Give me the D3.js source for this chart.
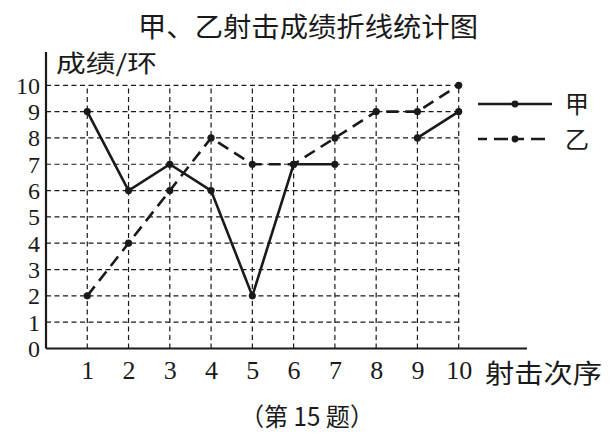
<!DOCTYPE html>
<html>
<head>
<meta charset="utf-8">
<script src="https://cdn.jsdelivr.net/npm/d3@7"></script>
<style>
html,body{margin:0;padding:0;background:#fff;}
svg{display:block;}
.num{font-family:"Liberation Serif","DejaVu Serif",serif !important;}
.cjk{font-family:"Noto Sans CJK SC","Noto Sans CJK JP",sans-serif;}
</style>
</head>
<body>
<svg id="chart" width="615" height="437"></svg>
<script>
const shots = [1,2,3,4,5,6,7,8,9,10];
const jiaScores = [9,6,7,6,2,7,7,null,8,9];
const yiScores = [2,4,6,8,7,7,8,9,9,10];
const yTicks = [0,1,2,3,4,5,6,7,8,9,10];
const xTicks = [1,2,3,4,5,6,7,8,9,10];
const seriesNames = ["甲","乙"];

const svg = d3.select("#chart");
const ink = "#1a1a1a";
const x = d3.scaleLinear().domain([0,10]).range([46, 458.7]);
const y = d3.scaleLinear().domain([0,10]).range([348.5, 85.3]);

// grid
const grid = svg.append("g").attr("stroke", ink).attr("stroke-width", 1.2).attr("stroke-dasharray", "5,3.5");
grid.selectAll("line.h").data(yTicks.filter(d=>d>0)).join("line")
  .attr("x1", x(0)).attr("x2", x(10)).attr("y1", d=>y(d)).attr("y2", d=>y(d));
grid.selectAll("line.v").data(xTicks).join("line")
  .attr("x1", d=>x(d)).attr("x2", d=>x(d)).attr("y1", y(0)).attr("y2", y(10));

// axes lines
svg.append("line").attr("x1", x(0)).attr("x2", 527).attr("y1", y(0)).attr("y2", y(0)).attr("stroke", ink).attr("stroke-width", 2.2);
svg.append("line").attr("x1", x(0)).attr("x2", x(0)).attr("y1", y(0)).attr("y2", 52).attr("stroke", ink).attr("stroke-width", 2.2);

// tick labels via d3 axes
const yAxis = svg.append("g").attr("transform", `translate(${x(0)-4},0)`)
  .call(d3.axisLeft(y).tickValues(yTicks).tickSize(0).tickPadding(2).tickFormat(d3.format("d")));
yAxis.attr("font-family", null);
yAxis.select(".domain").remove();
yAxis.selectAll("text").attr("class","num").style("font-size","24px").attr("fill",ink).attr("dy","0.33em");

const xAxis = svg.append("g").attr("transform", `translate(0,${y(0)})`)
  .call(d3.axisBottom(x).tickValues(xTicks).tickSize(0).tickPadding(12).tickFormat(d3.format("d")));
xAxis.attr("font-family", null);
xAxis.select(".domain").remove();
xAxis.selectAll("text").attr("class","num").style("font-size","26px").attr("fill",ink).attr("dy","0.71em");

// series
const lineGen = d3.line().defined(d=>d[1]!=null).x(d=>x(d[0])).y(d=>y(d[1]));
const jiaData = shots.map((s,i)=>[s,jiaScores[i]]);
const yiData = shots.map((s,i)=>[s,yiScores[i]]);

svg.append("path").datum(yiData).attr("d", lineGen).attr("fill","none").attr("stroke",ink)
  .attr("stroke-width",2.6).attr("stroke-dasharray","12,7");
svg.append("path").datum(jiaData).attr("d", lineGen).attr("fill","none").attr("stroke",ink)
  .attr("stroke-width",2.6);

svg.append("g").selectAll("circle").data(yiData.concat(jiaData.filter(d=>d[1]!=null))).join("circle")
  .attr("cx", d=>x(d[0])).attr("cy", d=>y(d[1])).attr("r", 3.6).attr("fill", ink);

// legend
const lg = svg.append("g");
const legendRows = [{name:seriesNames[0], y:104, dash:null},{name:seriesNames[1], y:139, dash:"9,7,14,7"}];
legendRows.forEach(r=>{
  lg.append("line").attr("x1",478).attr("x2",552).attr("y1",r.y).attr("y2",r.y)
    .attr("stroke",ink).attr("stroke-width",2.6).attr("stroke-dasharray", r.dash);
  lg.append("circle").attr("cx",515).attr("cy",r.y).attr("r",3.4).attr("fill",ink);
  lg.append("text").attr("class","cjk").attr("x",565).attr("y",r.y+9).text(r.name)
    .style("font-size","24px").attr("fill",ink);
});

// titles
svg.append("text").attr("class","cjk").attr("x",138).attr("y",37).text("甲、乙射击成绩折线统计图")
  .style("font-size","27px").attr("fill",ink)
  .attr("textLength",340).attr("lengthAdjust","spacingAndGlyphs");
svg.append("text").attr("class","cjk").attr("x",56).attr("y",72).text("成绩/环")
  .style("font-size","24px").attr("fill",ink)
  .attr("textLength",101).attr("lengthAdjust","spacingAndGlyphs");
svg.append("text").attr("class","cjk").attr("x",485).attr("y",383).text("射击次序")
  .style("font-size","26px").attr("fill",ink)
  .attr("textLength",117).attr("lengthAdjust","spacingAndGlyphs");
svg.append("text").attr("class","cjk").attr("x",240).attr("y",426).text("（第 15 题）")
  .style("font-size","25px").attr("fill",ink)
  .attr("textLength",134).attr("lengthAdjust","spacingAndGlyphs");
</script>
</body>
</html>
